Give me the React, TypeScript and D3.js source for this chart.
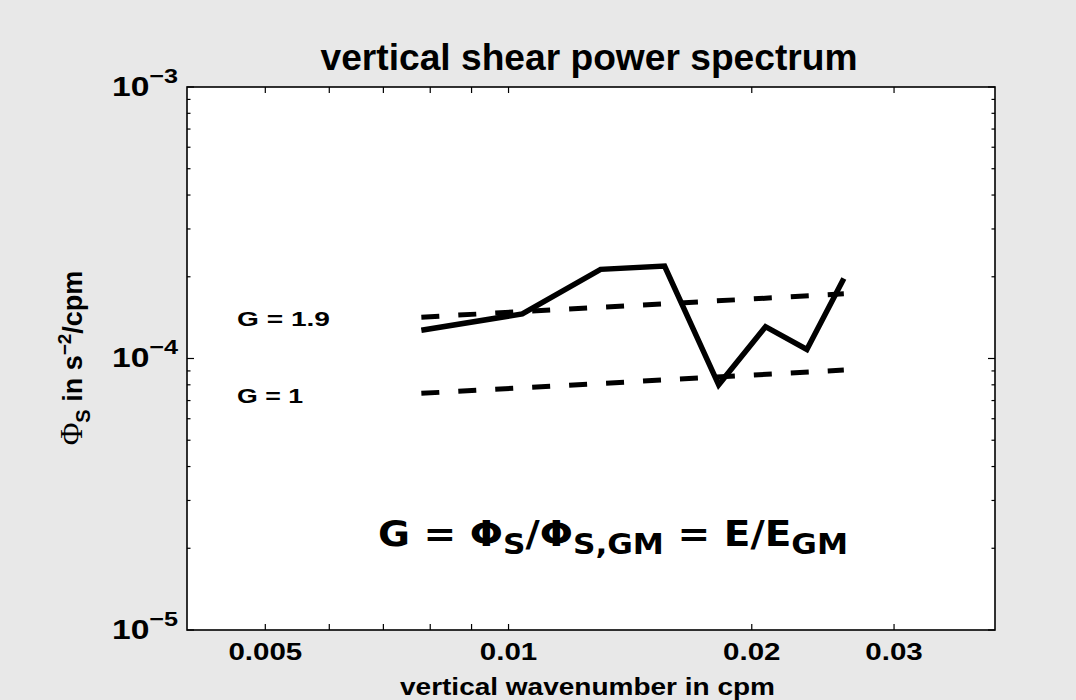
import React from 'react';
import * as d3 from 'd3';

// measured spectrum (vertical wavenumber in cpm, shear spectrum in s^-2/cpm)
const wavenumber = [0.0078, 0.0104, 0.0130, 0.0156, 0.0182, 0.0208, 0.0234, 0.0260];
const shearSpectrum = [1.27e-4, 1.46e-4, 2.13e-4, 2.19e-4, 8.0e-5, 1.31e-4, 1.08e-4, 1.97e-4];
// GM reference lines
const gmWavenumber = [0.0078, 0.026];
const gmLevel1 = [7.44e-5, 9.07e-5];
const gmLevel19 = [1.42e-4, 1.73e-4];
const gmLabels = ['G = 1.9', 'G = 1'];
// axes
const xDomain = [0.004, 0.04];
const yDomain = [1e-5, 1e-3];
const xTickValues = [0.005, 0.01, 0.02, 0.03];
const xTickLabels = ['0.005', '0.01', '0.02', '0.03'];
const xMinorTicks = [0.006, 0.007, 0.008, 0.009];
const yTickValues = [1e-5, 1e-4, 1e-3];
const yTickExponents = ['\u22125', '\u22124', '\u22123'];

const W = 1076, H = 700;
const L = 187, R = 995, T = 87, B = 630;
const SANS = '"Liberation Sans", Arial, Helvetica, sans-serif';
const SX = 1.23;

export default function App() {
  const x = d3.scaleLog().domain(xDomain).range([L, R]);
  const y = d3.scaleLog().domain(yDomain).range([B, T]);
  const line = d3.line<[number, number]>().x(d => x(d[0])).y(d => y(d[1]));
  const dataPts = wavenumber.map((k, i) => [k, shearSpectrum[i]] as [number, number]);
  const g1 = gmWavenumber.map((k, i) => [k, gmLevel1[i]] as [number, number]);
  const g19 = gmWavenumber.map((k, i) => [k, gmLevel19[i]] as [number, number]);
  const yAll = y.ticks();
  const yMinor = yAll.filter(v => !yTickValues.some(t => Math.abs(t - v) / t < 1e-6));
  const xAllTicks = [...xTickValues, ...xMinorTicks];

  return (
    <svg width={W} height={H} style={{ position: 'absolute', left: 0, top: 0, display: 'block' }}>
      <rect x={0} y={0} width={W} height={H} fill="#e8e8e8" />
      <rect x={L} y={T} width={R - L} height={B - T} fill="#ffffff" />

      {/* x ticks */}
      {xAllTicks.map((v, i) => (
        <g key={'xt' + i}>
          <line x1={x(v)} x2={x(v)} y1={B} y2={B - 6} stroke="#000" strokeWidth={1.2} />
          <line x1={x(v)} x2={x(v)} y1={T} y2={T + 6} stroke="#000" strokeWidth={1.2} />
        </g>
      ))}
      {/* y ticks */}
      {yTickValues.map((v, i) => (
        <g key={'yt' + i}>
          <line x1={L} x2={L + 7} y1={y(v)} y2={y(v)} stroke="#000" strokeWidth={1.2} />
          <line x1={R} x2={R - 7} y1={y(v)} y2={y(v)} stroke="#000" strokeWidth={1.2} />
        </g>
      ))}
      {yMinor.map((v, i) => (
        <g key={'ym' + i}>
          <line x1={L} x2={L + 3.5} y1={y(v)} y2={y(v)} stroke="#000" strokeWidth={1.2} />
          <line x1={R} x2={R - 3.5} y1={y(v)} y2={y(v)} stroke="#000" strokeWidth={1.2} />
        </g>
      ))}
      <rect x={L} y={T} width={R - L} height={B - T} fill="none" stroke="#000" strokeWidth={1.6} />

      {/* GM lines */}
      <path d={line(g19) || ''} fill="none" stroke="#000" strokeWidth={5} strokeDasharray="18 19" />
      <path d={line(g1) || ''} fill="none" stroke="#000" strokeWidth={5} strokeDasharray="18 19" />
      {/* data */}
      <path d={line(dataPts) || ''} fill="none" stroke="#000" strokeWidth={5.5} strokeLinejoin="miter" />

      {/* x tick labels */}
      {xTickValues.map((v, i) => (
        <g key={'xl' + i} transform={`translate(${x(v)},660) scale(${SX},1)`}>
          <text x={0} y={0} textAnchor="middle" fontFamily={SANS} fontWeight="bold" fontSize={24} fill="#000">
            {xTickLabels[i]}
          </text>
        </g>
      ))}
      {/* y tick labels */}
      {yTickValues.map((v, i) => (
        <g key={'yl' + i} transform={`translate(112,${y(v) + 8.5}) scale(1.2,1)`}>
          <text x={0} y={0} fontFamily={SANS} fontWeight="bold" fontSize={28} fill="#000">
            10<tspan dy={-13} fontSize={21}>{yTickExponents[i]}</tspan>
          </text>
        </g>
      ))}

      {/* title */}
      <text x={320.5} y={70} fontFamily={SANS} fontWeight="bold" fontSize={36} textLength={537} lengthAdjust="spacingAndGlyphs" fill="#000">
        vertical shear power spectrum
      </text>
      {/* x label */}
      <text x={400} y={695} fontFamily={SANS} fontWeight="bold" fontSize={24} textLength={375} lengthAdjust="spacingAndGlyphs" fill="#000">
        vertical wavenumber in cpm
      </text>
      {/* y label */}
      <g transform="translate(82,358) rotate(-90)">
        <text x={0} y={0} textAnchor="middle" fontFamily={SANS} fontWeight="bold" fontSize={27} fill="#000">
          <tspan fontFamily='"Liberation Serif", serif' fontWeight="normal" fontSize={31}>Φ</tspan>
          <tspan dy={8} fontSize={20}>S</tspan>
          <tspan dy={-8}> in s</tspan>
          <tspan dy={-11} fontSize={19}>{'\u22122'}</tspan>
          <tspan dy={11}>/cpm</tspan>
        </text>
      </g>

      {/* G labels */}
      <text x={237} y={326} fontFamily={SANS} fontWeight="bold" fontSize={21} textLength={93} lengthAdjust="spacingAndGlyphs" fill="#000">{gmLabels[0]}</text>
      <text x={237} y={403} fontFamily={SANS} fontWeight="bold" fontSize={21} textLength={66} lengthAdjust="spacingAndGlyphs" fill="#000">{gmLabels[1]}</text>

      {/* formula */}
      <text x={378} y={546} fontFamily='"DejaVu Sans", Verdana, sans-serif' fontWeight="bold" fontSize={35} fill="#000" textLength={470} lengthAdjust="spacingAndGlyphs">
        G = Φ<tspan dy={8} fontSize={28}>S</tspan><tspan dy={-8}>/Φ</tspan><tspan dy={8} fontSize={28}>S,GM</tspan><tspan dy={-8}> = E/E</tspan><tspan dy={8} fontSize={28}>GM</tspan>
      </text>
    </svg>
  );
}
